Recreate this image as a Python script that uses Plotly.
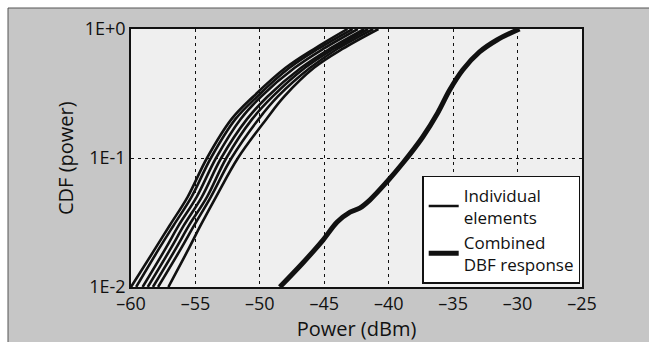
import plotly.graph_objects as go

# CDF levels shared by the individual element curves
cdf_levels = [0.01, 0.02, 0.03, 0.05, 0.1, 0.2, 0.3, 0.5, 0.7, 1.0]

# Power (dBm) of each individual element at the CDF levels above
elem_1 = [-60.0, -58.1, -57.0, -55.6, -54.1, -52.2, -50.5, -48.0, -45.8, -43.2]
elem_2 = [-59.6, -57.8, -56.7, -55.3, -53.8, -51.9, -50.2, -47.7, -45.5, -42.8]
elem_3 = [-59.1, -57.3, -56.3, -54.9, -53.4, -51.5, -49.9, -47.3, -45.1, -42.4]
elem_4 = [-58.7, -56.9, -55.9, -54.5, -53.0, -51.0, -49.4, -46.8, -44.6, -41.9]
elem_5 = [-58.3, -56.5, -55.5, -54.1, -52.6, -50.6, -49.0, -46.5, -44.3, -41.6]
elem_6 = [-57.9, -56.1, -55.1, -53.8, -52.2, -50.1, -48.6, -46.1, -44.0, -41.2]
elem_7 = [-57.1, -55.5, -54.6, -53.4, -51.7, -49.5, -48.1, -45.8, -43.6, -40.8]
elements = [elem_1, elem_2, elem_3, elem_4, elem_5, elem_6, elem_7]

# Combined DBF response
dbf_power = [-48.45, -46.67, -45.1, -44.0, -43.0, -42.25, -41.47, -40.15, -38.9,
             -37.36, -36.2, -35.27, -34.26, -32.95, -31.6, -29.85]
dbf_cdf = [0.01, 0.01535, 0.0231, 0.0319, 0.0381, 0.0409, 0.0472, 0.0652, 0.0914,
           0.1455, 0.2234, 0.3365, 0.481, 0.664, 0.822, 1.0]

x_ticks = [-60, -55, -50, -45, -40, -35, -30, -25]
x_ticktext = ["–60", "–55", "–50", "–45", "–40", "–35", "–30", "–25"]
y_ticks = [0.01, 0.1, 1.0]
y_ticktext = ["1E-2", "1E-1", "1E+0"]

FONT = "Open Sans"
INK = "#111111"

fig = go.Figure()
for i, e in enumerate(elements):
    fig.add_trace(go.Scatter(
        x=e, y=cdf_levels, mode="lines", line=dict(color=INK, width=2.6, shape="spline"),
        name="Individual<br>elements", showlegend=(i == 0), legendgroup="ind"))
fig.add_trace(go.Scatter(
    x=dbf_power, y=dbf_cdf, mode="lines", line=dict(color=INK, width=5, shape="spline"),
    name="Combined<br>DBF response"))

fig.update_layout(
    width=649, height=342,
    margin=dict(l=131, r=67, t=29, b=55),
    paper_bgcolor="#c6c6c6",
    plot_bgcolor="#efefef",
    font=dict(family=FONT, size=18, color=INK),
    legend=dict(x=0.996, y=0.012, xanchor="right", yanchor="bottom",
                bgcolor="white", bordercolor=INK, borderwidth=1.5,
                font=dict(size=17, color=INK), itemwidth=30,
                tracegroupgap=0),
    annotations=[
        dict(text="CDF (power)", xref="paper", yref="paper",
             x=(65 - 131) / 451, y=0.5, textangle=-90, showarrow=False,
             xanchor="center", yanchor="middle", font=dict(size=20, color=INK)),
    ],
    shapes=[
        dict(type="rect", xref="paper", yref="paper",
             x0=-131/451, x1=(649-131)/451, y0=(287-8)/258, y1=(287+0)/258 + 1.2,
             fillcolor="white", line=dict(width=0), layer="above"),
        dict(type="rect", xref="paper", yref="paper",
             x0=-131/451 - 0.1, x1=(8-131)/451, y0=-0.3, y1=1.2,
             fillcolor="white", line=dict(width=0), layer="above"),
        dict(type="line", xref="paper", yref="paper",
             x0=(8-131)/451, x1=(649-131)/451, y0=(287-8)/258, y1=(287-8)/258,
             line=dict(color="#555555", width=1)),
        dict(type="line", xref="paper", yref="paper",
             x0=(8-131)/451, x1=(8-131)/451, y0=(287-342)/258, y1=(287-8)/258,
             line=dict(color="#555555", width=1)),
    ],
)

fig.update_xaxes(
    range=[-60, -25], tickvals=x_ticks, ticktext=x_ticktext,
    showgrid=True, gridcolor=INK, gridwidth=1.3, griddash="3px,4px",
    showline=True, linecolor=INK, linewidth=1.5, mirror=True,
    ticks="", zeroline=False,
    title=dict(text="Power (dBm)", font=dict(size=20), standoff=0),
)
fig.update_yaxes(
    type="log", range=[-2, 0], tickvals=y_ticks, ticktext=y_ticktext,
    showgrid=True, gridcolor=INK, gridwidth=1.3, griddash="3px,4px",
    showline=True, linecolor=INK, linewidth=1.5, mirror=True,
    ticks="", zeroline=False,
)

fig.write_html("out.html")
